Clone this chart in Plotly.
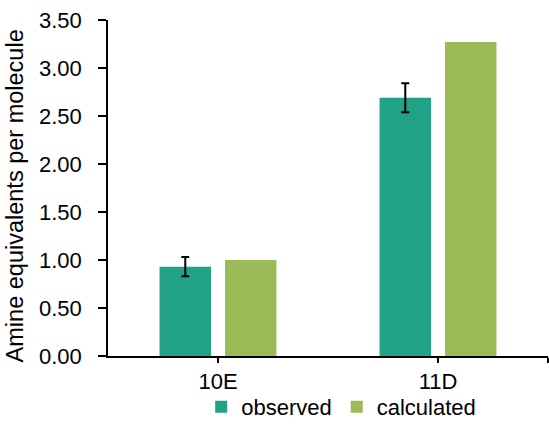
import plotly.graph_objects as go

categories = ["10E", "11D"]
observed = [0.93, 2.69]
observed_err = [0.10, 0.15]
calculated = [1.00, 3.27]
y_ticks = [0, 0.5, 1.0, 1.5, 2.0, 2.5, 3.0, 3.5]
y_title = "Amine equivalents per molecule"

xpos = list(range(len(categories)))
font = dict(family="Liberation Sans, Arial, sans-serif", size=22, color="#000000")

fig = go.Figure()
fig.add_trace(go.Bar(
    x=xpos, y=observed, name="observed", marker=dict(color="#21A185", line=dict(width=0)),
    error_y=dict(type="data", array=observed_err, visible=True, color="#000000", thickness=2, width=4),
))
fig.add_trace(go.Bar(
    x=xpos, y=calculated, name="calculated", marker=dict(color="#9BBB59", line=dict(width=0)),
))

fig.update_layout(
    width=549, height=436,
    margin=dict(l=108, r=1, t=20, b=80, autoexpand=False),
    paper_bgcolor="white", plot_bgcolor="white",
    font=font,
    barmode="group", bargap=0.405, bargroupgap=0.214,
    showlegend=True,
    legend=dict(orientation="h", xref="paper", x=0.53, xanchor="center",
                yref="container", y=1 - 407 / 436, yanchor="middle",
                font=font, itemwidth=30, bgcolor="rgba(0,0,0,0)"),
    annotations=[dict(text=y_title, textangle=-90, font=dict(family=font["family"], size=23.5, color="#000000"),
                      xref="paper", yref="paper", x=0, y=0.475, xanchor="center", yanchor="middle",
                      xshift=-93, showarrow=False)],
)
fig.update_xaxes(
    range=[-0.5, len(categories) - 0.5],
    tickvals=xpos + [len(categories) - 0.5], ticktext=categories + [""],
    showline=True, linecolor="#000000", linewidth=2,
    ticks="outside", ticklen=5, tickcolor="#000000", tickwidth=1.5,
    showgrid=False, zeroline=False, tickfont=font,
)
fig.update_yaxes(
    range=[0, 3.5], tickvals=y_ticks, tickformat=".2f",
    showline=True, linecolor="#000000", linewidth=1.5,
    ticks="outside", ticklen=8, tickcolor="#000000", tickwidth=1.5,
    ticklabelstandoff=12,
    showgrid=False, zeroline=False, tickfont=font,
)

fig.write_html("out.html")
